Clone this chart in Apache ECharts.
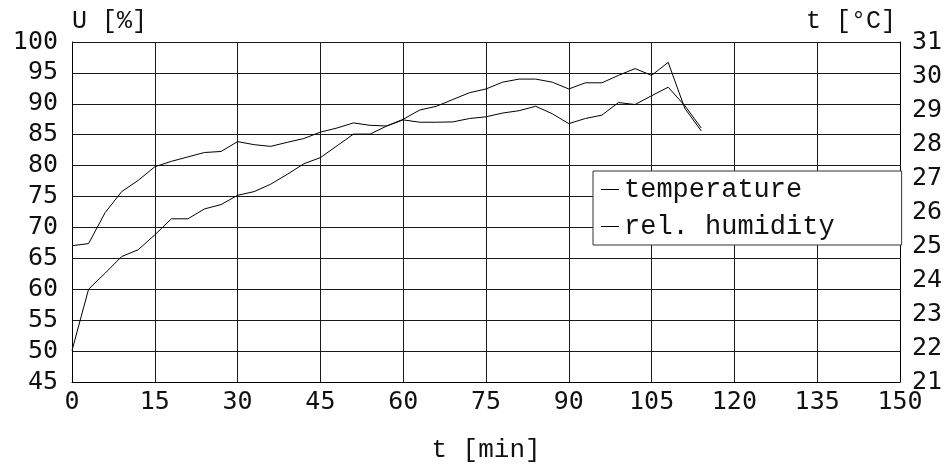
<!DOCTYPE html>
<html>
<head>
<meta charset="utf-8">
<script src="https://cdn.jsdelivr.net/npm/echarts@6/dist/echarts.min.js"></script>
<style>
  html, body { margin: 0; padding: 0; background: #fff; }
  #chart { width: 946px; height: 468px; }
</style>
</head>
<body>
<div id="chart"></div>
<script>
// time in minutes
const timeMin = [0, 3, 6, 9, 12, 15, 18, 21, 24, 27, 30, 33, 36, 39, 42, 45, 48, 51, 54, 57,
  60, 63, 66, 69, 72, 75, 78, 81, 84, 87, 90, 93, 96, 99, 102, 105, 108, 111, 114];

// temperature [°C], right axis
const temperature = [25.01, 25.07, 25.98, 26.6, 26.93, 27.33, 27.49, 27.62, 27.75, 27.78,
  28.07, 27.98, 27.93, 28.05, 28.16, 28.35, 28.47, 28.62, 28.55, 28.53,
  28.71, 28.64, 28.64, 28.65, 28.75, 28.8, 28.91, 28.98, 29.11, 28.89,
  28.6, 28.75, 28.85, 29.22, 29.16, 29.42, 29.67, 29.13, 28.47];

// relative humidity [%], left axis
const humidity = [50.1, 60.0, 62.6, 65.3, 66.4, 68.8, 71.4, 71.4, 73.0, 73.7,
  75.2, 75.8, 77.0, 78.6, 80.3, 81.3, 83.2, 85.1, 85.1, 86.4,
  87.5, 89.0, 89.6, 90.7, 91.8, 92.4, 93.5, 94.0, 94.0, 93.5,
  92.4, 93.4, 93.4, 94.6, 95.7, 94.6, 96.7, 89.3, 85.6];

const MONO = "Liberation Mono";
const TICK_FONT = "DejaVu Sans Mono";

const chart = echarts.init(document.getElementById("chart"));

const tickLabel = { fontFamily: TICK_FONT, fontSize: 25, color: "#111" };
const gridLine = { lineStyle: { color: "#1a1a1a", width: 1 } };
const axisLine = { show: true, lineStyle: { color: "#000", width: 1 } };

chart.setOption({
  animation: false,
  backgroundColor: "#fff",
  grid: { left: 72, right: 46, top: 42, bottom: 71 },
  legend: {
    orient: "vertical",
    left: 593,
    top: 171,
    icon: "rect",
    itemWidth: 18,
    itemHeight: 1,
    itemGap: 4,
    padding: [2, 67, 2, 8],
    backgroundColor: "#fff",
    borderColor: "#333",
    borderWidth: 1,
    borderRadius: 0,
    textStyle: { fontFamily: MONO, fontSize: 27, color: "#111", lineHeight: 33 },
    data: ["temperature", "rel. humidity"],
  },
  xAxis: {
    type: "value",
    min: 0,
    max: 150,
    interval: 15,
    name: "t [min]",
    nameLocation: "middle",
    nameGap: 55,
    nameTextStyle: { fontFamily: MONO, fontSize: 26, color: "#111" },
    axisLine: axisLine,
    axisTick: { show: false },
    axisLabel: { ...tickLabel, margin: 8 },
    splitLine: { show: true, ...gridLine },
  },
  yAxis: [
    {
      type: "value",
      min: 45,
      max: 100,
      interval: 5,
      position: "left",
      name: "U [%]",
      nameLocation: "end",
      nameGap: 8,
      nameTextStyle: { fontFamily: MONO, fontSize: 25, color: "#111", align: "left" },
      axisLine: axisLine,
      axisTick: { show: false },
      axisLabel: { ...tickLabel, margin: 14 },
      splitLine: { show: true, ...gridLine },
    },
    {
      type: "value",
      min: 21,
      max: 31,
      interval: 1,
      position: "right",
      name: "t [°C]",
      nameLocation: "end",
      nameGap: 8,
      nameTextStyle: { fontFamily: MONO, fontSize: 25, color: "#111", align: "right", padding: [0, 4, 0, 0] },
      axisLine: axisLine,
      axisTick: { show: false },
      axisLabel: { ...tickLabel, margin: 12 },
      splitLine: { show: false },
    },
  ],
  series: [
    {
      name: "temperature",
      type: "line",
      yAxisIndex: 1,
      data: timeMin.map((t, i) => [t, temperature[i]]),
      symbol: "none",
      lineStyle: { color: "#000", width: 1 },
      itemStyle: { color: "#000" },
    },
    {
      name: "rel. humidity",
      type: "line",
      yAxisIndex: 0,
      data: timeMin.map((t, i) => [t, humidity[i]]),
      symbol: "none",
      lineStyle: { color: "#000", width: 1 },
      itemStyle: { color: "#000" },
    },
  ],
});
</script>
</body>
</html>
